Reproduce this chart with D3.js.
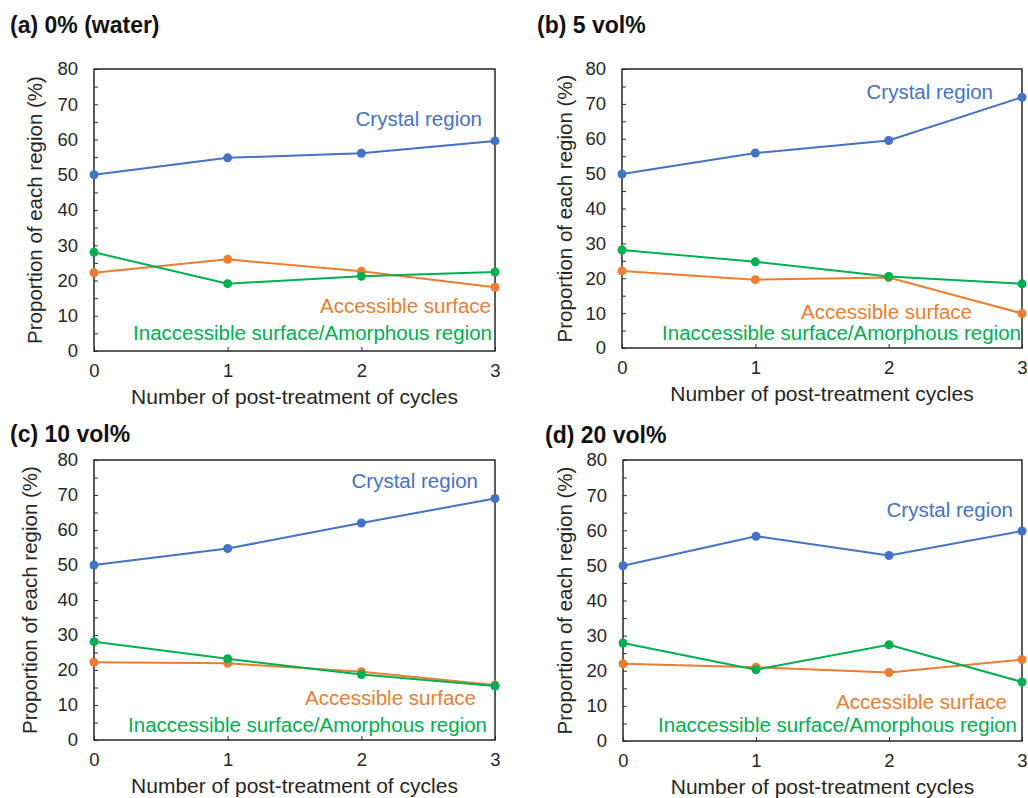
<!DOCTYPE html>
<html>
<head>
<meta charset="utf-8">
<script src="https://cdn.jsdelivr.net/npm/d3@7"></script>
<style>
    body { margin: 0; background: #fff; }
    svg { font-family: "Liberation Sans", Arial, sans-serif; }
</style>
</head>
<body>
<svg id="fig" width="1028" height="798"></svg>
<script>
// data
const cycles = [0, 1, 2, 3];
const yticks = [0, 10, 20, 30, 40, 50, 60, 70, 80];
const seriesNames = ['Crystal region', 'Accessible surface', 'Inaccessible surface/Amorphous region'];
const seriesColors = ['#4472C4', '#ED7D31', '#00B050'];

const water_crystal = [50.0, 54.8, 56.1, 59.6];
const water_access = [22.2, 26.0, 22.6, 18.1];
const water_inaccess = [28.0, 19.1, 21.2, 22.4];

const vol5_crystal = [49.9, 55.9, 59.5, 71.9];
const vol5_access = [22.1, 19.6, 20.2, 9.9];
const vol5_inaccess = [28.1, 24.7, 20.5, 18.4];

const vol10_crystal = [50.0, 54.7, 62.0, 69.0];
const vol10_access = [22.2, 21.9, 19.5, 15.7];
const vol10_inaccess = [28.1, 23.2, 18.7, 15.4];

const vol20_crystal = [49.9, 58.3, 52.8, 59.8];
const vol20_access = [22.0, 21.0, 19.5, 23.2];
const vol20_inaccess = [27.9, 20.3, 27.4, 16.8];

class LinePanel {

    constructor(config, series) {
        this.config = {
            parent: config.parent,
            left: config.left,
            top: config.top,
            width: config.width,
            height: config.height,
            title: config.title,
            titlePos: config.titlePos,
            xlabel: config.xlabel,
            ylabelX: config.ylabelX,
            labels: config.labels
        }
        this.series = series;
        this.init();
    }

    init() {
        let self = this;
        const c = self.config;

        self.svg = d3.select(c.parent);

        self.svg.append('text')
            .attr('x', c.titlePos[0])
            .attr('y', c.titlePos[1])
            .style('font-size', '23px')
            .style('font-weight', 'bold')
            .attr('fill', '#111')
            .text(c.title);

        self.chart = self.svg.append('g')
            .attr('transform', `translate(${c.left}, ${c.top})`);

        self.xscale = d3.scaleLinear()
            .domain([0, 3])
            .range([0, c.width]);

        self.yscale = d3.scaleLinear()
            .domain([0, 80])
            .range([c.height, 0]);

        self.line = d3.line()
            .x((d, i) => self.xscale(cycles[i]))
            .y(d => self.yscale(d));
    }

    render() {
        let self = this;
        const c = self.config;

        // minor inward ticks every 5 on y
        self.chart.append('g')
            .call(d3.axisRight(self.yscale).tickValues(d3.range(0, 81, 5)).tickSize(4).tickFormat(''))
            .call(g => g.select('.domain').remove())
            .selectAll('line').attr('stroke', '#333');

        self.chart.append('g')
            .attr('transform', `translate(0, ${c.height})`)
            .call(d3.axisTop(self.xscale).tickValues(cycles).tickSize(4).tickFormat(''))
            .call(g => g.select('.domain').remove())
            .selectAll('line').attr('stroke', '#333');

        // tick labels
        self.chart.append('g')
            .call(d3.axisLeft(self.yscale).tickValues(yticks).tickSize(0).tickPadding(16).tickFormat(d3.format('d')))
            .call(g => g.select('.domain').remove())
            .selectAll('text')
            .style('font-size', '18.5px')
            .style('font-family', '"Liberation Sans", Arial, sans-serif')
            .attr('fill', '#262626');

        self.chart.append('g')
            .attr('transform', `translate(0, ${c.height})`)
            .call(d3.axisBottom(self.xscale).tickValues(cycles).tickSize(0).tickPadding(13).tickFormat(d3.format('d')))
            .call(g => g.select('.domain').remove())
            .selectAll('text')
            .style('font-size', '18.5px')
            .style('font-family', '"Liberation Sans", Arial, sans-serif')
            .attr('fill', '#262626');

        self.chart.append('rect')
            .attr('width', c.width)
            .attr('height', c.height)
            .attr('fill', 'none')
            .attr('stroke', '#262626')
            .attr('stroke-width', 1.5);

        self.series.forEach((s, k) => {
            self.chart.append('path')
                .attr('d', self.line(s))
                .attr('fill', 'none')
                .attr('stroke', seriesColors[k])
                .attr('stroke-width', 2);

            self.chart.selectAll(null)
                .data(s)
                .join('circle')
                .attr('cx', (d, i) => self.xscale(cycles[i]))
                .attr('cy', d => self.yscale(d))
                .attr('r', 4.5)
                .attr('fill', seriesColors[k]);
        });

        c.labels.forEach((p, k) => {
            self.chart.append('text')
                .attr('x', p[0])
                .attr('y', p[1])
                .attr('text-anchor', 'end')
                .style('font-size', '20.5px')
                .attr('fill', seriesColors[k])
                .text(seriesNames[k]);
        });

        self.chart.append('text')
            .attr('x', c.width / 2)
            .attr('y', c.height + 53)
            .attr('text-anchor', 'middle')
            .style('font-size', '21px')
            .attr('fill', '#262626')
            .text(c.xlabel);

        self.chart.append('text')
            .attr('transform', 'rotate(-90)')
            .attr('x', -c.height / 2)
            .attr('y', -c.left + c.ylabelX)
            .attr('text-anchor', 'middle')
            .style('font-size', '20.5px')
            .attr('fill', '#262626')
            .text('Proportion of each region (%)');
    }
}

const panels = [
    { left: 94, top: 69, width: 401, height: 282, title: '(a) 0% (water)', titlePos: [10, 33],
      xlabel: 'Number of post-treatment of cycles', ylabelX: 42,
      labels: [[388, 57], [397, 244], [398, 271]],
      series: [water_crystal, water_access, water_inaccess] },
    { left: 622, top: 69, width: 400, height: 279, title: '(b) 5 vol%', titlePos: [537, 33],
      xlabel: 'Number of post-treatment cycles', ylabelX: 572,
      labels: [[371, 30], [350, 250], [399, 271]],
      series: [vol5_crystal, vol5_access, vol5_inaccess] },
    { left: 94, top: 460, width: 401, height: 280, title: '(c) 10 vol%', titlePos: [10, 442],
      xlabel: 'Number of post-treatment of cycles', ylabelX: 37,
      labels: [[384, 28], [382, 245], [393, 272]],
      series: [vol10_crystal, vol10_access, vol10_inaccess] },
    { left: 623, top: 460, width: 399, height: 281, title: '(d) 20 vol%', titlePos: [545, 443],
      xlabel: 'Number of post-treatment cycles', ylabelX: 572,
      labels: [[390, 57], [384, 249], [394, 272]],
      series: [vol20_crystal, vol20_access, vol20_inaccess] }
];

panels.forEach(p => {
    const panel = new LinePanel(Object.assign({ parent: '#fig' }, p), p.series);
    panel.render();
});
</script>
</body>
</html>
